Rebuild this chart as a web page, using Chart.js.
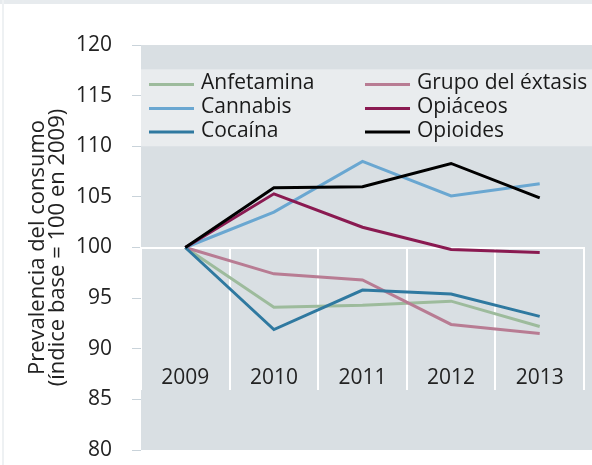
<!DOCTYPE html>
<html>
<head>
<meta charset="utf-8">
<script src="https://cdn.jsdelivr.net/npm/chart.js@4/dist/chart.umd.min.js"></script>
<style>
  html, body { margin: 0; padding: 0; background: #ffffff; }
  #wrap { position: relative; width: 592px; height: 465px; overflow: hidden; }
  #c { position: absolute; left: 0; top: 0; }
  #frameTop { position: absolute; left: 0; top: 0; width: 592px; height: 4px; background: #e7ebee; }
  #frameLeft { position: absolute; left: 2px; top: 0; width: 2px; height: 465px; background: #eef1f3; }
  #below { position: absolute; left: 141px; top: 451px; width: 451px; height: 14px; background: #ffffff; }
</style>
</head>
<body>
<div id="wrap">
  <canvas id="c" width="592" height="465"></canvas>
  <div id="frameTop"></div>
  <div id="frameLeft"></div>
  <div id="below"></div>
</div>
<script>
// ---- data ----
const categories = ['2009', '2010', '2011', '2012', '2013'];
const seriesNames = ['Anfetamina', 'Grupo del éxtasis', 'Cannabis', 'Opiáceos', 'Cocaína', 'Opioides'];
const anfetamina = [100, 94.1, 94.3, 94.7, 92.2];
const extasis    = [100, 97.4, 96.8, 92.4, 91.5];
const cannabis   = [100, 103.5, 108.5, 105.1, 106.3];
const opiaceos   = [100, 105.3, 102.0, 99.8, 99.5];
const cocaina    = [100, 91.9, 95.8, 95.4, 93.2];
const opioides   = [100, 105.9, 106.0, 108.3, 104.9];
const yMin = 80, yMax = 120, yStep = 5;
const baseValue = 100;
const yTitle = ['Prevalencia del consumo', '(índice base = 100 en 2009)'];

const colors = ['#9dbb9c', '#b87c93', '#6aa7d1', '#8a1a51', '#2f79a0', '#000000'];
const values = [anfetamina, extasis, cannabis, opiaceos, cocaina, opioides];

const FONT = '"Open Sans"';

const bgPlugin = {
  id: 'bgPlugin',
  beforeDraw(chart) {
    const {ctx, chartArea} = chart;
    const y = chart.scales.y;
    const top0 = y.getPixelForValue(yMax);
    const bottom0 = y.getPixelForValue(yMin);
    ctx.save();
    ctx.fillStyle = '#d9dfe3';
    ctx.fillRect(chartArea.left, top0, chart.width - chartArea.left, bottom0 - top0);
    // legend box
    const top = y.getPixelForValue(117.6);
    const bottom = y.getPixelForValue(110);
    ctx.fillStyle = '#e9ecee';
    ctx.fillRect(chartArea.left, top, chart.width - chartArea.left, bottom - top);
    ctx.restore();
  }
};

const legendPlugin = {
  id: 'customLegend',
  afterDraw(chart) {
    const {ctx, chartArea} = chart;
    const ds = chart.data.datasets;
    const colX = [chartArea.left + 8, chartArea.left + 224];
    const rowBase = [89, 113, 136.5];
    ctx.save();
    ctx.font = '21px ' + FONT;
    ctx.textBaseline = 'alphabetic';
    ctx.textAlign = 'left';
    ds.forEach((d, i) => {
      const cx = colX[i % 2];
      const by = rowBase[Math.floor(i / 2)];
      ctx.strokeStyle = d.borderColor;
      ctx.lineWidth = 3;
      ctx.beginPath();
      ctx.moveTo(cx, by - 4.5);
      ctx.lineTo(cx + 45, by - 4.5);
      ctx.stroke();
      ctx.fillStyle = '#1a1a1a';
      ctx.fillText(d.label, cx + 52, by);
    });
    ctx.restore();
  }
};

new Chart(document.getElementById('c'), {
  type: 'line',
  data: {
    labels: categories,
    datasets: seriesNames.map((name, i) => ({
      label: name,
      data: values[i],
      borderColor: colors[i],
      backgroundColor: colors[i],
      borderWidth: 3,
      pointRadius: 0,
      tension: 0,
      fill: false,
      borderJoinStyle: 'miter',
      order: 6 - i
    }))
  },
  options: {
    responsive: false,
    animation: false,
    devicePixelRatio: 1,
    layout: { padding: { left: 0, right: 8, top: 45, bottom: 15 } },
    plugins: { legend: { display: false }, tooltip: { enabled: false } },
    scales: {
      x: {
        type: 'category',
        offset: true,
        position: { y: baseValue },
        afterFit(s) { s.height = 0; s.paddingTop = 0; s.paddingBottom = 0; },
        border: { display: true, color: '#ffffff', width: 2 },
        grid: {
          offset: true,
          drawOnChartArea: false,
          drawTicks: true,
          tickLength: 141,
          color: '#ffffff',
          lineWidth: 2
        },
        ticks: {
          font: { family: FONT, size: 21 },
          color: '#222222',
          padding: -23,
          maxRotation: 0,
          autoSkip: false
        }
      },
      y: {
        min: yMin,
        max: yMax,
        afterFit(s) { s.width = 141; s.paddingTop = 0; s.paddingBottom = 0; },
        border: { display: false },
        grid: {
          drawOnChartArea: false,
          drawTicks: true,
          tickLength: 9,
          color: '#c9d3da',
          lineWidth: 1
        },
        ticks: {
          stepSize: yStep,
          font: { family: FONT, size: 21 },
          color: '#222222',
          padding: 20
        },
        title: {
          display: true,
          text: yTitle,
          font: { family: FONT, size: 22, lineHeight: '20px' },
          color: '#222222',
          padding: { top: 28, bottom: 0 }
        }
      }
    }
  },
  plugins: [bgPlugin, legendPlugin]
});
</script>
</body>
</html>
